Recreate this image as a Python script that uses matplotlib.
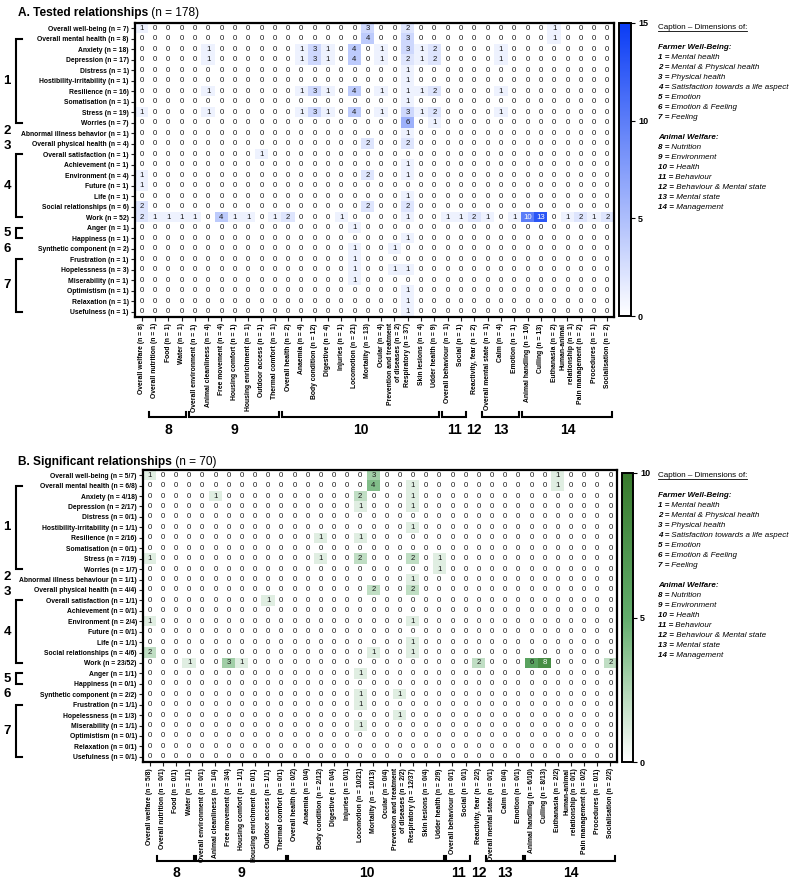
import matplotlib
matplotlib.use("Agg")
import matplotlib.pyplot as plt
import numpy as np
from matplotlib.colors import LinearSegmentedColormap

plt.rcParams["font.family"] = ["Liberation Sans", "DejaVu Sans"]

W, H = 796, 886

# ---------------- datos ----------------
filas = [
    "Overall well-being", "Overall mental health", "Anxiety", "Depression",
    "Distress", "Hostibility-irritability", "Resilience", "Somatisation",
    "Stress", "Worries", "Abnormal illness behavior", "Overall physical health",
    "Overall satisfaction", "Achievement", "Environment", "Future", "Life",
    "Social relationships", "Work", "Anger", "Happiness", "Synthetic component",
    "Frustration", "Hopelessness", "Miserability", "Optimistism", "Relaxation",
    "Usefulness",
]
n_filas_probadas = [7, 8, 18, 17, 1, 1, 16, 1, 19, 7, 1, 4, 1, 1, 4, 1, 1, 6, 52,
                    1, 1, 2, 1, 3, 1, 1, 1, 1]
n_filas_signif = [5, 6, 4, 2, 0, 1, 2, 0, 7, 1, 1, 4, 1, 0, 2, 0, 1, 4, 23,
                  1, 0, 2, 1, 1, 1, 0, 0, 0]

columnas = [
    "Overall welfare", "Overall nutrition", "Food", "Water",
    "Overall environment", "Animal cleanliness", "Free movement",
    "Housing comfort", "Housing enrichment", "Outdoor access", "Thermal comfort",
    "Overall health", "Anaemia", "Body condition", "Digestive", "Injuries",
    "Locomotion", "Mortality", "Ocular", "Prevention and treatment\nof diseases",
    "Respiratory", "Skin lesions", "Udder health", "Overall behaviour", "Social",
    "Reactivity, fear", "Overall mental state", "Calm", "Emotion",
    "Animal handling", "Culling", "Euthanasia", "Human-animal\nrelationship",
    "Pain management", "Procedures", "Socialisation",
]
n_cols_probadas = [8, 1, 1, 1, 1, 4, 4, 1, 1, 1, 1, 2, 4, 12, 4, 1, 21, 13, 4, 2,
                   37, 4, 9, 1, 1, 2, 1, 4, 1, 10, 13, 2, 1, 2, 1, 2]
n_cols_signif = [5, 0, 0, 1, 0, 1, 3, 1, 0, 1, 0, 0, 0, 2, 0, 0, 10, 10, 0, 2,
                 12, 0, 2, 0, 0, 2, 0, 0, 0, 6, 8, 2, 0, 0, 0, 2]

# columnas agrupadas: 1 | 3 | 7 | 12 | 2 | 1 | 3 | 7
probadas = [
    [1, 0,0,0, 0,0,0,0,0,0,0, 0,0,0,0,0,0,3,0,0,2,0,0, 0,0, 0, 0,0,0, 0,0,1,0,0,0,0],
    [0, 0,0,0, 0,0,0,0,0,0,0, 0,0,0,0,0,0,4,0,0,3,0,0, 0,0, 0, 0,0,0, 0,0,1,0,0,0,0],
    [0, 0,0,0, 0,1,0,0,0,0,0, 0,1,3,1,0,4,0,1,0,3,1,2, 0,0, 0, 0,1,0, 0,0,0,0,0,0,0],
    [0, 0,0,0, 0,1,0,0,0,0,0, 0,1,3,1,0,4,0,1,0,2,1,2, 0,0, 0, 0,1,0, 0,0,0,0,0,0,0],
    [0, 0,0,0, 0,0,0,0,0,0,0, 0,0,0,0,0,0,0,0,0,1,0,0, 0,0, 0, 0,0,0, 0,0,0,0,0,0,0],
    [0, 0,0,0, 0,0,0,0,0,0,0, 0,0,0,0,0,0,0,0,0,1,0,0, 0,0, 0, 0,0,0, 0,0,0,0,0,0,0],
    [0, 0,0,0, 0,1,0,0,0,0,0, 0,1,3,1,0,4,0,1,0,1,1,2, 0,0, 0, 0,1,0, 0,0,0,0,0,0,0],
    [0, 0,0,0, 0,0,0,0,0,0,0, 0,0,0,0,0,0,0,0,0,1,0,0, 0,0, 0, 0,0,0, 0,0,0,0,0,0,0],
    [1, 0,0,0, 0,1,0,0,0,0,0, 0,1,3,1,0,4,0,1,0,3,1,2, 0,0, 0, 0,1,0, 0,0,0,0,0,0,0],
    [0, 0,0,0, 0,0,0,0,0,0,0, 0,0,0,0,0,0,0,0,0,6,0,1, 0,0, 0, 0,0,0, 0,0,0,0,0,0,0],
    [0, 0,0,0, 0,0,0,0,0,0,0, 0,0,0,0,0,0,0,0,0,1,0,0, 0,0, 0, 0,0,0, 0,0,0,0,0,0,0],
    [0, 0,0,0, 0,0,0,0,0,0,0, 0,0,0,0,0,0,2,0,0,2,0,0, 0,0, 0, 0,0,0, 0,0,0,0,0,0,0],
    [0, 0,0,0, 0,0,0,0,0,1,0, 0,0,0,0,0,0,0,0,0,0,0,0, 0,0, 0, 0,0,0, 0,0,0,0,0,0,0],
    [0, 0,0,0, 0,0,0,0,0,0,0, 0,0,0,0,0,0,0,0,0,1,0,0, 0,0, 0, 0,0,0, 0,0,0,0,0,0,0],
    [1, 0,0,0, 0,0,0,0,0,0,0, 0,0,0,0,0,0,2,0,0,1,0,0, 0,0, 0, 0,0,0, 0,0,0,0,0,0,0],
    [1, 0,0,0, 0,0,0,0,0,0,0, 0,0,0,0,0,0,0,0,0,0,0,0, 0,0, 0, 0,0,0, 0,0,0,0,0,0,0],
    [0, 0,0,0, 0,0,0,0,0,0,0, 0,0,0,0,0,0,0,0,0,1,0,0, 0,0, 0, 0,0,0, 0,0,0,0,0,0,0],
    [2, 0,0,0, 0,0,0,0,0,0,0, 0,0,0,0,0,0,2,0,0,2,0,0, 0,0, 0, 0,0,0, 0,0,0,0,0,0,0],
    [2, 1,1,1, 1,0,4,1,1,0,1, 2,0,0,0,1,0,0,0,0,1,0,0, 1,1, 2, 1,0,1, 10,13,0,1,2,1,2],
    [0, 0,0,0, 0,0,0,0,0,0,0, 0,0,0,0,0,1,0,0,0,0,0,0, 0,0, 0, 0,0,0, 0,0,0,0,0,0,0],
    [0, 0,0,0, 0,0,0,0,0,0,0, 0,0,0,0,0,0,0,0,0,1,0,0, 0,0, 0, 0,0,0, 0,0,0,0,0,0,0],
    [0, 0,0,0, 0,0,0,0,0,0,0, 0,0,0,0,0,1,0,0,1,0,0,0, 0,0, 0, 0,0,0, 0,0,0,0,0,0,0],
    [0, 0,0,0, 0,0,0,0,0,0,0, 0,0,0,0,0,1,0,0,0,0,0,0, 0,0, 0, 0,0,0, 0,0,0,0,0,0,0],
    [0, 0,0,0, 0,0,0,0,0,0,0, 0,0,0,0,0,1,0,0,1,1,0,0, 0,0, 0, 0,0,0, 0,0,0,0,0,0,0],
    [0, 0,0,0, 0,0,0,0,0,0,0, 0,0,0,0,0,1,0,0,0,0,0,0, 0,0, 0, 0,0,0, 0,0,0,0,0,0,0],
    [0, 0,0,0, 0,0,0,0,0,0,0, 0,0,0,0,0,0,0,0,0,1,0,0, 0,0, 0, 0,0,0, 0,0,0,0,0,0,0],
    [0, 0,0,0, 0,0,0,0,0,0,0, 0,0,0,0,0,0,0,0,0,1,0,0, 0,0, 0, 0,0,0, 0,0,0,0,0,0,0],
    [0, 0,0,0, 0,0,0,0,0,0,0, 0,0,0,0,0,0,0,0,0,1,0,0, 0,0, 0, 0,0,0, 0,0,0,0,0,0,0],
]

significativas = [
    [1, 0,0,0, 0,0,0,0,0,0,0, 0,0,0,0,0,0,3,0,0,0,0,0, 0,0, 0, 0,0,0, 0,0,1,0,0,0,0],
    [0, 0,0,0, 0,0,0,0,0,0,0, 0,0,0,0,0,0,4,0,0,1,0,0, 0,0, 0, 0,0,0, 0,0,1,0,0,0,0],
    [0, 0,0,0, 0,1,0,0,0,0,0, 0,0,0,0,0,2,0,0,0,1,0,0, 0,0, 0, 0,0,0, 0,0,0,0,0,0,0],
    [0, 0,0,0, 0,0,0,0,0,0,0, 0,0,0,0,0,1,0,0,0,1,0,0, 0,0, 0, 0,0,0, 0,0,0,0,0,0,0],
    [0, 0,0,0, 0,0,0,0,0,0,0, 0,0,0,0,0,0,0,0,0,0,0,0, 0,0, 0, 0,0,0, 0,0,0,0,0,0,0],
    [0, 0,0,0, 0,0,0,0,0,0,0, 0,0,0,0,0,0,0,0,0,1,0,0, 0,0, 0, 0,0,0, 0,0,0,0,0,0,0],
    [0, 0,0,0, 0,0,0,0,0,0,0, 0,0,1,0,0,1,0,0,0,0,0,0, 0,0, 0, 0,0,0, 0,0,0,0,0,0,0],
    [0, 0,0,0, 0,0,0,0,0,0,0, 0,0,0,0,0,0,0,0,0,0,0,0, 0,0, 0, 0,0,0, 0,0,0,0,0,0,0],
    [1, 0,0,0, 0,0,0,0,0,0,0, 0,0,1,0,0,2,0,0,0,2,0,1, 0,0, 0, 0,0,0, 0,0,0,0,0,0,0],
    [0, 0,0,0, 0,0,0,0,0,0,0, 0,0,0,0,0,0,0,0,0,0,0,1, 0,0, 0, 0,0,0, 0,0,0,0,0,0,0],
    [0, 0,0,0, 0,0,0,0,0,0,0, 0,0,0,0,0,0,0,0,0,1,0,0, 0,0, 0, 0,0,0, 0,0,0,0,0,0,0],
    [0, 0,0,0, 0,0,0,0,0,0,0, 0,0,0,0,0,0,2,0,0,2,0,0, 0,0, 0, 0,0,0, 0,0,0,0,0,0,0],
    [0, 0,0,0, 0,0,0,0,0,1,0, 0,0,0,0,0,0,0,0,0,0,0,0, 0,0, 0, 0,0,0, 0,0,0,0,0,0,0],
    [0, 0,0,0, 0,0,0,0,0,0,0, 0,0,0,0,0,0,0,0,0,0,0,0, 0,0, 0, 0,0,0, 0,0,0,0,0,0,0],
    [1, 0,0,0, 0,0,0,0,0,0,0, 0,0,0,0,0,0,0,0,0,1,0,0, 0,0, 0, 0,0,0, 0,0,0,0,0,0,0],
    [0, 0,0,0, 0,0,0,0,0,0,0, 0,0,0,0,0,0,0,0,0,0,0,0, 0,0, 0, 0,0,0, 0,0,0,0,0,0,0],
    [0, 0,0,0, 0,0,0,0,0,0,0, 0,0,0,0,0,0,0,0,0,1,0,0, 0,0, 0, 0,0,0, 0,0,0,0,0,0,0],
    [2, 0,0,0, 0,0,0,0,0,0,0, 0,0,0,0,0,0,1,0,0,1,0,0, 0,0, 0, 0,0,0, 0,0,0,0,0,0,0],
    [0, 0,0,1, 0,0,3,1,0,0,0, 0,0,0,0,0,0,0,0,0,0,0,0, 0,0, 2, 0,0,0, 6,8,0,0,0,0,2],
    [0, 0,0,0, 0,0,0,0,0,0,0, 0,0,0,0,0,1,0,0,0,0,0,0, 0,0, 0, 0,0,0, 0,0,0,0,0,0,0],
    [0, 0,0,0, 0,0,0,0,0,0,0, 0,0,0,0,0,0,0,0,0,0,0,0, 0,0, 0, 0,0,0, 0,0,0,0,0,0,0],
    [0, 0,0,0, 0,0,0,0,0,0,0, 0,0,0,0,0,1,0,0,1,0,0,0, 0,0, 0, 0,0,0, 0,0,0,0,0,0,0],
    [0, 0,0,0, 0,0,0,0,0,0,0, 0,0,0,0,0,1,0,0,0,0,0,0, 0,0, 0, 0,0,0, 0,0,0,0,0,0,0],
    [0, 0,0,0, 0,0,0,0,0,0,0, 0,0,0,0,0,0,0,0,1,0,0,0, 0,0, 0, 0,0,0, 0,0,0,0,0,0,0],
    [0, 0,0,0, 0,0,0,0,0,0,0, 0,0,0,0,0,1,0,0,0,0,0,0, 0,0, 0, 0,0,0, 0,0,0,0,0,0,0],
    [0, 0,0,0, 0,0,0,0,0,0,0, 0,0,0,0,0,0,0,0,0,0,0,0, 0,0, 0, 0,0,0, 0,0,0,0,0,0,0],
    [0, 0,0,0, 0,0,0,0,0,0,0, 0,0,0,0,0,0,0,0,0,0,0,0, 0,0, 0, 0,0,0, 0,0,0,0,0,0,0],
    [0, 0,0,0, 0,0,0,0,0,0,0, 0,0,0,0,0,0,0,0,0,0,0,0, 0,0, 0, 0,0,0, 0,0,0,0,0,0,0],
]

# grupos (numero, primera, ultima) en indices 0
grupos_filas = [(1, 1, 9), (2, 10, 10), (3, 11, 11), (4, 12, 18),
                (5, 19, 20), (6, 21, 21), (7, 22, 27)]
grupos_cols = [(8, 1, 3), (9, 4, 10), (10, 11, 22), (11, 23, 24),
               (12, 25, 25), (13, 26, 28), (14, 29, 35)]

leyenda_granja = ["Mental health", "Mental & Physical health", "Physical health",
                  "Satisfaction towards a life aspect", "Emotion",
                  "Emotion & Feeling", "Feeling"]
leyenda_animal = ["Nutrition", "Environment", "Health", "Behaviour",
                  "Behaviour & Mental state", "Mental state", "Management"]

azules = LinearSegmentedColormap.from_list("azules", ["#ffffff", "#0a3cf5"])
verdes = LinearSegmentedColormap.from_list(
    "verdes", [(0, "#ffffff"), (0.5, "#62ad6c"), (1, "#387a2c")])

fig = plt.figure(figsize=(W / 100, H / 100), dpi=100)

ov = fig.add_axes([0, 0, 1, 1])
ov.set_xlim(0, W)
ov.set_ylim(H, 0)
ov.axis("off")
ov.set_zorder(10)


def caja(x0, y0, x1, y1):
    return [x0 / W, 1 - y1 / H, (x1 - x0) / W, (y1 - y0) / H]


subrayados = []
# pequeños desplazamientos verticales de los numeros 2 y 3 (muy juntos)
ajuste_num = {2: -2.5, 3: 2.5}


def dibujar_panel(matriz, etiq_filas, etiq_cols, cmap, vmax, ticks, px, px_cb,
                  titulo, subtitulo, y_titulo, y_llave, y_num, y_caption):
    x0, y0, x1, y1 = px
    datos = np.array(matriz)
    ax = fig.add_axes(caja(x0, y0, x1, y1))
    im = ax.imshow(datos, cmap=cmap, vmin=0, vmax=vmax, aspect="auto",
                   interpolation="nearest")
    for i in range(datos.shape[0]):
        for j in range(datos.shape[1]):
            v = datos[i, j]
            ax.text(j, i, str(v), ha="center", va="center", fontsize=5.6,
                    color="white" if v / vmax > 0.6 else "#1a1a1a")
    ax.set_yticks(range(len(etiq_filas)))
    ax.set_yticklabels(etiq_filas, fontsize=4.9, fontweight="bold")
    ax.set_xticks(range(len(etiq_cols)))
    ax.set_xticklabels(etiq_cols, fontsize=4.9, fontweight="bold", rotation=90,
                       va="top", ha="center", multialignment="right")
    ax.tick_params(length=3, width=0.8, pad=1.5, color="#222222")
    for s in ax.spines.values():
        s.set_linewidth(1.6)

    cx0, cy0, cx1, cy1 = px_cb
    cax = fig.add_axes(caja(cx0, cy0, cx1, cy1))
    cb = fig.colorbar(im, cax=cax, ticks=ticks)
    cb.outline.set_linewidth(1.4)
    cax.tick_params(length=3, width=0.8, labelsize=6.5, pad=2)
    for t in cax.get_yticklabels():
        t.set_fontweight("bold")

    # titulo
    t = ov.text(18, y_titulo, titulo, fontsize=8.6, fontweight="bold",
                va="center", ha="left")
    ov.annotate(subtitulo, xy=(1, 0), xycoords=t, fontsize=8.6,
                va="bottom", ha="left")

    nf, nc = datos.shape
    fh = (y1 - y0) / nf
    cw = (x1 - x0) / nc
    fila_y = lambda i: y0 + (i + 0.5) * fh
    col_x = lambda j: x0 + (j + 0.5) * cw

    # llaves de filas
    for num, a, b in grupos_filas:
        ya, yb = fila_y(a), fila_y(b)
        if a != b:
            ov.plot([22, 16, 16, 22], [ya, ya, yb, yb], color="black", lw=1.5,
                    solid_joinstyle="miter")
        ov.text(7, (ya + yb) / 2 + ajuste_num.get(num, 0), str(num),
                fontsize=9.5, fontweight="bold", ha="center", va="center")

    # llaves de columnas
    for num, a, b in grupos_cols:
        xa, xb = col_x(a) - 0.45 * cw, col_x(b) + 0.35 * cw
        if a != b:
            ov.plot([xa, xa, xb, xb], [y_llave - 5, y_llave, y_llave, y_llave - 5],
                    color="black", lw=1.5, solid_joinstyle="miter")
        ov.text((col_x(a) + col_x(b)) / 2, y_num, str(num), fontsize=10,
                fontweight="bold", ha="center", va="center")

    # leyenda
    xc = 658
    fs = 5.8
    t = ov.text(xc, y_caption, "Caption \u2013 Dimensions of:", fontsize=fs,
                va="baseline")
    subrayados.append((t, y_caption))
    y = y_caption + 20
    ov.text(xc, y, "Farmer Well-Being:", fontsize=fs, fontweight="bold",
            style="italic", va="baseline")
    for k, txt in enumerate(leyenda_granja, start=1):
        y += 10
        t1 = ov.text(xc, y, f"{k} =", fontsize=fs, fontweight="bold",
                     style="italic", va="baseline")
        ov.annotate(" " + txt, xy=(1, 0), xycoords=t1, fontsize=fs,
                    style="italic", va="bottom", ha="left")
    y += 20
    ov.text(xc, y, "Animal Welfare:", fontsize=fs, fontweight="bold",
            style="italic", va="baseline")
    for k, txt in enumerate(leyenda_animal, start=8):
        y += 10
        t1 = ov.text(xc, y, f"{k} =", fontsize=fs, fontweight="bold",
                     style="italic", va="baseline")
        ov.annotate(" " + txt, xy=(1, 0), xycoords=t1, fontsize=fs,
                    style="italic", va="bottom", ha="left")


etiq_f_a = [f"{f} (n = {n})" for f, n in zip(filas, n_filas_probadas)]
etiq_c_a = [f"{c} (n = {n})" for c, n in zip(columnas, n_cols_probadas)]
dibujar_panel(probadas, etiq_f_a, etiq_c_a, azules, 15, [0, 5, 10, 15],
              (135, 23, 614, 317), (619, 23, 631, 316),
              "A. Tested relationships", " (n = 178)", 13, 417, 430, 29)

filas_b = [f.replace("behavior", "behaviour") for f in filas]
etiq_f_b = [f"{f} (n = {s}/{n})"
            for f, s, n in zip(filas_b, n_filas_signif, n_filas_probadas)]
etiq_c_b = [f"{c} (n = {s}/{n})"
            for c, s, n in zip(columnas, n_cols_signif, n_cols_probadas)]
dibujar_panel(significativas, etiq_f_b, etiq_c_b, verdes, 10, [0, 5, 10],
              (143, 470, 617, 762), (622, 473, 633, 762),
              "B. Significant relationships", " (n = 70)", 462, 861, 873, 477)

fig.canvas.draw()
for t, yb in subrayados:
    bb = t.get_window_extent()
    ov.plot([bb.x0, bb.x1], [yb + 1.5, yb + 1.5], color="black", lw=0.6)

fig.savefig("out.png", dpi=100)
